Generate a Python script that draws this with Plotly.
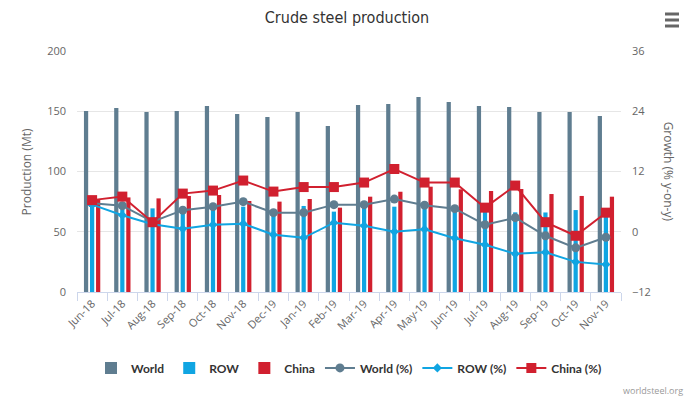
import plotly.graph_objects as go

months = ["Jun-18", "Jul-18", "Aug-18", "Sep-18", "Oct-18", "Nov-18", "Dec-19", "Jan-19", "Feb-19",
          "Mar-19", "Apr-19", "May-19", "Jun-19", "Jul-19", "Aug-19", "Sep-19", "Oct-19", "Nov-19"]

world = [150.2, 152.7, 149.4, 150.2, 154.4, 147.7, 145.2, 149.4, 137.8,
         155.2, 156.0, 161.8, 157.7, 154.4, 153.5, 149.4, 149.4, 146.1]
row = [73.6, 71.0, 69.4, 67.5, 70.8, 70.8, 66.5, 71.4, 66.7,
       72.0, 70.8, 72.0, 70.0, 66.7, 66.1, 66.0, 68.0, 66.0]
china = [77.0, 78.5, 77.7, 79.7, 80.5, 75.5, 75.0, 77.2, 70.0,
         79.1, 83.2, 87.4, 85.2, 83.8, 85.5, 81.3, 79.7, 79.1]

world_pct = [5.7, 5.2, 2.0, 4.3, 5.0, 6.0, 3.8, 3.8, 5.4,
             5.4, 6.5, 5.3, 4.6, 1.4, 2.8, -0.8, -3.2, -1.1]
row_pct = [5.4, 3.3, 1.5, 0.6, 1.4, 1.6, -0.6, -1.2, 1.8,
           1.2, 0.0, 0.5, -1.3, -2.6, -4.4, -4.1, -6.0, -6.5]
china_pct = [6.3, 7.0, 1.9, 7.6, 8.2, 10.2, 8.0, 8.9, 8.9,
             9.8, 12.5, 9.8, 9.8, 4.8, 9.2, 1.9, -0.8, 3.8]

C_WORLD = "#5f7d90"
C_ROW = "#10a5e2"
C_CHINA = "#d1202f"

fig = go.Figure()
bw = 0.14
fig.add_trace(go.Bar(x=months, y=world, name="World", marker_color=C_WORLD,
                     width=bw, offset=-0.27, marker_line_width=0))
fig.add_trace(go.Bar(x=months, y=row, name="ROW", marker_color=C_ROW,
                     width=bw, offset=-0.07, marker_line_width=0))
fig.add_trace(go.Bar(x=months, y=china, name="China", marker_color=C_CHINA,
                     width=bw, offset=0.13, marker_line_width=0))

fig.add_trace(go.Scatter(x=months, y=world_pct, name="World (%)", yaxis="y2",
                         mode="lines+markers", line=dict(color=C_WORLD, width=2),
                         marker=dict(symbol="circle", size=9, color=C_WORLD)))
fig.add_trace(go.Scatter(x=months, y=row_pct, name="ROW (%)", yaxis="y2",
                         mode="lines+markers", line=dict(color=C_ROW, width=2),
                         marker=dict(symbol="diamond", size=7, color=C_ROW)))
fig.add_trace(go.Scatter(x=months, y=china_pct, name="China (%)", yaxis="y2",
                         mode="lines+markers", line=dict(color=C_CHINA, width=2),
                         marker=dict(symbol="square", size=10, color=C_CHINA)))

tickfont = dict(family="Open Sans, DejaVu Sans, sans-serif", size=11, color="#666666")

fig.update_layout(
    width=694, height=398,
    margin=dict(l=77, r=73, t=51, b=106),
    paper_bgcolor="white", plot_bgcolor="white",
    title=dict(text="Crude steel production", x=0.5, xanchor="center", y=1 - 17 / 398, yanchor="middle",
               font=dict(family="DejaVu Sans Condensed, Roboto Condensed, Liberation Sans Narrow, Lato, sans-serif",
                         size=16, color="#333333")),
    showlegend=True,
    legend=dict(orientation="h", x=0.5, xanchor="center", y=-0.315, yanchor="middle",
                font=dict(family="Lato, Open Sans, sans-serif", size=12, color="#333333", weight="bold"),
                itemwidth=30, traceorder="normal"),
    xaxis=dict(type="category", tickangle=-45, tickfont=tickfont, showgrid=False,
               showline=True, linecolor="#ccd6eb", linewidth=1,
               ticks="outside", tickson="boundaries", ticklen=8, tickcolor="#ccd6eb",
               range=[-0.5, 17.5]),
    yaxis=dict(range=[0, 200], dtick=50, tickfont=tickfont, showgrid=True, gridcolor="#e6e6e6",
               zeroline=False, showline=False, ticks="", ticklabelstandoff=10),
    yaxis2=dict(range=[-12, 36], dtick=12, overlaying="y", side="right", tickfont=tickfont,
                showgrid=False, zeroline=False, showline=False, ticks="", ticklabelstandoff=10),
    bargap=0.2,
)

fig.add_annotation(text="Production (Mt)", xref="paper", yref="paper",
                   x=-0.092, y=0.5, textangle=-90, showarrow=False,
                   xanchor="center", yanchor="middle",
                   font=dict(family="Open Sans, DejaVu Sans, sans-serif", size=12, color="#666666"))
fig.add_annotation(text="Growth (% y-on-y)", xref="paper", yref="paper",
                   x=1.088, y=0.5, textangle=90, showarrow=False,
                   xanchor="center", yanchor="middle",
                   font=dict(family="Open Sans, DejaVu Sans, sans-serif", size=12, color="#666666"))
fig.add_annotation(text="worldsteel.org", xref="paper", yref="paper",
                   x=(685 - 77) / 544, y=(292 - 391) / 241, showarrow=False,
                   xanchor="right", yanchor="middle",
                   font=dict(family="Open Sans, DejaVu Sans, sans-serif", size=9, color="#999999"))

# menu icon (three bars)
for py in (14, 20, 26):
    fig.add_shape(type="line", xref="paper", yref="paper",
                  x0=(665 - 77) / 544, x1=(679 - 77) / 544,
                  y0=(292 - py) / 241, y1=(292 - py) / 241,
                  line=dict(color="#666666", width=3))

fig.write_html("out.html", config={"displayModeBar": False},
               post_script="document.body.style.margin='0';document.body.style.padding='0';")
